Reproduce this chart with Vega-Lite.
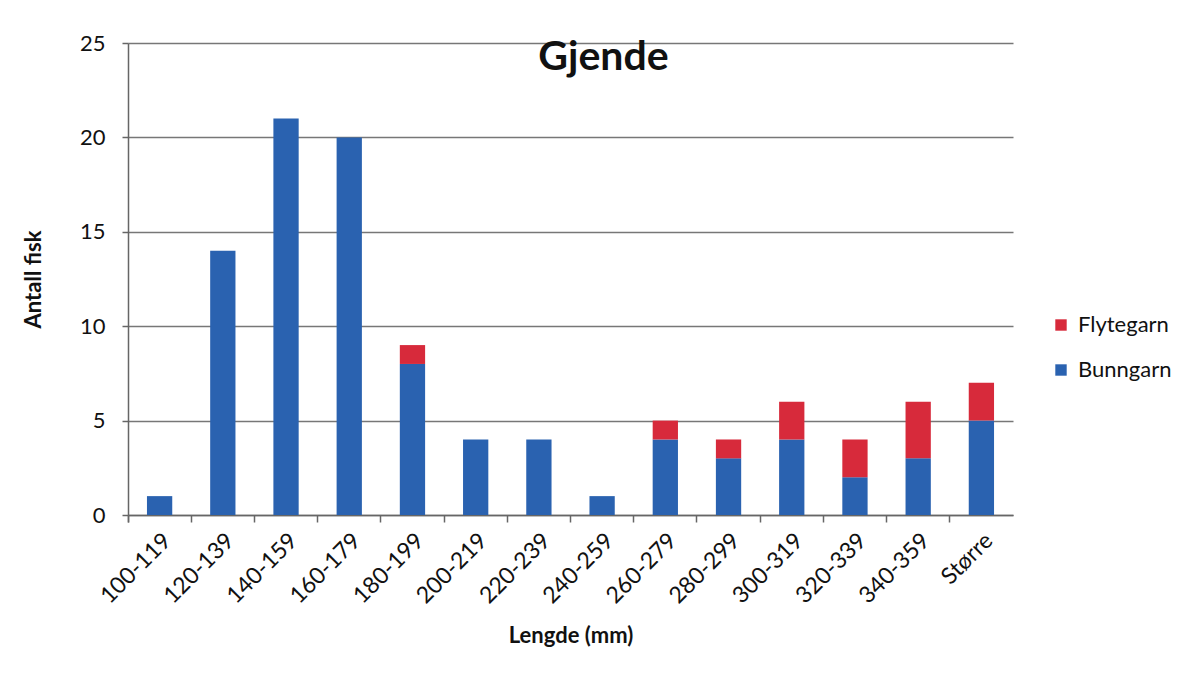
{
  "$schema": "https://vega.github.io/schema/vega-lite/v6.json",
  "autosize": "none",
  "width": 885,
  "height": 472,
  "padding": {"left": 128, "top": 43, "right": 175, "bottom": 161},
  "background": "white",
  "title": {"text": "Gjende", "font": "Lato", "fontSize": 41, "fontWeight": "bold", "color": "#111", "anchor": "middle", "dx": 33, "offset": -47},
  "data": {"values": [
    {"len": "100-119", "garn": "Bunngarn", "n": 1, "o": 1},
    {"len": "120-139", "garn": "Bunngarn", "n": 14, "o": 1},
    {"len": "140-159", "garn": "Bunngarn", "n": 21, "o": 1},
    {"len": "160-179", "garn": "Bunngarn", "n": 20, "o": 1},
    {"len": "180-199", "garn": "Bunngarn", "n": 8, "o": 1},
    {"len": "180-199", "garn": "Flytegarn", "n": 1, "o": 2},
    {"len": "200-219", "garn": "Bunngarn", "n": 4, "o": 1},
    {"len": "220-239", "garn": "Bunngarn", "n": 4, "o": 1},
    {"len": "240-259", "garn": "Bunngarn", "n": 1, "o": 1},
    {"len": "260-279", "garn": "Bunngarn", "n": 4, "o": 1},
    {"len": "260-279", "garn": "Flytegarn", "n": 1, "o": 2},
    {"len": "280-299", "garn": "Bunngarn", "n": 3, "o": 1},
    {"len": "280-299", "garn": "Flytegarn", "n": 1, "o": 2},
    {"len": "300-319", "garn": "Bunngarn", "n": 4, "o": 1},
    {"len": "300-319", "garn": "Flytegarn", "n": 2, "o": 2},
    {"len": "320-339", "garn": "Bunngarn", "n": 2, "o": 1},
    {"len": "320-339", "garn": "Flytegarn", "n": 2, "o": 2},
    {"len": "340-359", "garn": "Bunngarn", "n": 3, "o": 1},
    {"len": "340-359", "garn": "Flytegarn", "n": 3, "o": 2},
    {"len": "Større", "garn": "Bunngarn", "n": 5, "o": 1},
    {"len": "Større", "garn": "Flytegarn", "n": 2, "o": 2}
  ]},
  "mark": {"type": "bar", "width": {"band": 0.4}},
  "encoding": {
    "x": {
      "field": "len", "type": "nominal", "sort": null,
      "scale": {"paddingInner": 0, "paddingOuter": 0},
      "axis": {
        "title": "Lengde (mm)", "titleFont": "Lato", "titleFontSize": 22, "titleFontWeight": "bold", "titleColor": "#111", "titlePadding": 18,
        "labelAngle": -45, "labelFont": "Lato", "labelFontSize": 23, "labelColor": "#111", "labelPadding": 7,
        "bandPosition": 0, "tickExtra": true, "ticks": true, "tickSize": 7, "tickColor": "#666", "tickWidth": 1.5,
        "domainColor": "#666", "domainWidth": 1.5, "grid": false
      }
    },
    "y": {
      "field": "n", "type": "quantitative", "stack": "zero",
      "scale": {"domain": [0, 25]},
      "axis": {
        "title": "Antall fisk", "titleFont": "Lato", "titleFontSize": 22, "titleFontWeight": "bold", "titleColor": "#111", "titlePadding": 34,
        "values": [0, 5, 10, 15, 20, 25],
        "labelFont": "Lato", "labelFontSize": 22, "labelColor": "#111", "labelPadding": 17,
        "tickSize": 6, "tickColor": "#666", "tickWidth": 1.5,
        "domainColor": "#666", "domainWidth": 1.5,
        "grid": true, "gridColor": "#777", "gridWidth": 1.5
      }
    },
    "color": {
      "field": "garn", "type": "nominal",
      "scale": {"domain": ["Flytegarn", "Bunngarn"], "range": ["#d72a3b", "#2a62b0"]},
      "legend": {
        "title": null, "orient": "none", "legendX": 922, "legendY": 271,
        "symbolType": "square", "symbolSize": 130, "labelFont": "Lato", "labelFontSize": 22, "labelColor": "#111",
        "rowPadding": 23, "labelOffset": 6
      }
    },
    "order": {"field": "o", "type": "quantitative"}
  },
  "config": {"view": {"stroke": null}}
}
